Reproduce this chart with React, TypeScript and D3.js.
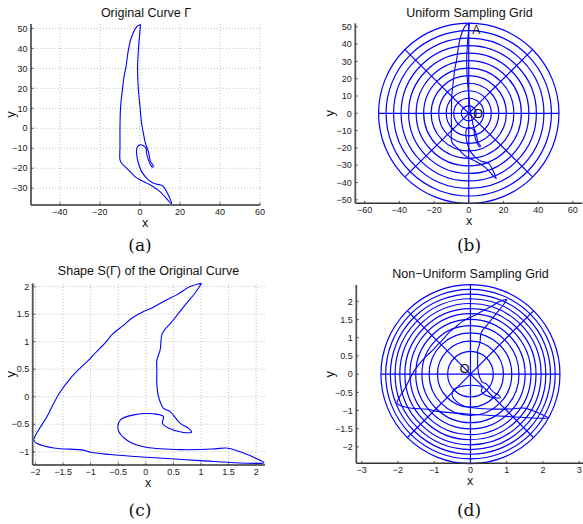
import React, { useEffect, useRef } from 'react';
import * as d3 from 'd3';

// Original curve Γ (panels a, b)
const gammaX = [0.3, -1.7, -4.2, -5.8, -7, -8, -8.8, -9.7, -10, -10, -10, -9.2, -7.5, -5.8, -4.2, -2.5, 0, 5, 10, 15.8, 11.7, 10, 7.5, 4.2, 0.8, -0.8, -1.7, -1.3, 0, 1.7, 3, 3.3, 4.2, 5.3, 6.3, 6.7, 5.3, 4.7, 4.2, 3.3, 2.5, 1.7, 0.8, 0, -0.8, -1.2, -0.8, 0.3];
const gammaY = [52, 50.8, 45.8, 39.2, 30.8, 25.8, 19.2, 10.8, 0.8, -9.2, -15.8, -17.5, -19.2, -20.8, -22.5, -24.2, -25.8, -28.3, -31.7, -37.8, -29.2, -28.3, -27.8, -25.8, -21.7, -17.5, -12.5, -9.2, -8.3, -8.7, -10, -12.5, -15.8, -18.3, -19.5, -18.8, -16.7, -14.2, -11.7, -9.2, -6.7, -2.5, 2.5, 10.8, 19.2, 30.8, 39.2, 52];

// Normalised shape S(Γ) (panels c, d)
const shapeX = [1.01, 0.8, 0.56, 0.32, 0.11, -0.04, -0.25, -0.4, -0.59, -0.77, -0.98, -1.0, -1.19, -1.37, -1.55, -1.67, -1.79, -1.94, -2.03, -1.97, -1.67, -1.13, -1.0, -0.65, 0.02, 0.98, 1.95, 2.14, 2.0, 1.71, 1.52, 1.45, 1.2, 0.62, -0.04, -0.34, -0.5, -0.46, -0.22, 0.14, 0.32, 0.3, 0.41, 0.68, 0.83, 0.78, 0.62, 0.44, 0.32, 0.23, 0.2, 0.2, 0.2, 0.26, 0.3, 0.47, 0.62, 0.74, 0.89, 1.01];
const shapeY = [2.06, 2.0, 1.85, 1.73, 1.61, 1.55, 1.43, 1.3, 1.15, 0.94, 0.73, 0.7, 0.52, 0.33, 0.09, -0.12, -0.36, -0.6, -0.79, -0.85, -0.93, -0.97, -1.01, -1.05, -1.1, -1.16, -1.21, -1.2, -1.12, -1.0, -0.94, -0.93, -0.95, -0.96, -0.91, -0.79, -0.6, -0.42, -0.33, -0.31, -0.36, -0.48, -0.57, -0.65, -0.64, -0.58, -0.48, -0.27, -0.21, 0.0, 0.24, 0.48, 0.66, 0.85, 1.15, 1.36, 1.55, 1.7, 1.88, 2.06];

const uniformRadii = [4.33, 8.67, 13, 17.33, 21.67, 26, 30.33, 34.67, 39, 43.33, 47.67, 52];
const nonUniformRadii = [0.63, 0.91, 1.14, 1.34, 1.51, 1.67, 1.81, 1.95, 2.08, 2.21, 2.34, 2.47];
const rayAngles = [0, 45, 90, 135, 180, 225, 270, 315];

const ticksAx = [-40, -20, 0, 20, 40, 60];
const ticksAy = [-30, -20, -10, 0, 10, 20, 30, 40, 50];
const ticksBx = [-60, -40, -20, 0, 20, 40, 60];
const ticksBy = [-50, -40, -30, -20, -10, 0, 10, 20, 30, 40, 50];
const ticksCx = [-2, -1.5, -1, -0.5, 0, 0.5, 1, 1.5, 2];
const ticksCy = [-1, -0.5, 0, 0.5, 1, 1.5, 2];
const ticksDx = [-3, -2, -1, 0, 1, 2, 3];
const ticksDy = [-2, -1.5, -1, -0.5, 0, 0.5, 1, 1.5, 2];

const titles = ['Original Curve Γ', 'Uniform Sampling Grid', 'Shape S(Γ) of the Original Curve', 'Non\u2212Uniform Sampling Grid'];
const subLabels = ['(a)', '(b)', '(c)', '(d)'];

const fmt = (v: number) => (v < 0 ? '\u2212' + String(-v) : String(v));

const BLUE = '#0000ff';
const SANS = '"Liberation Sans", Arial, sans-serif';

export default function App() {
  const ref = useRef<SVGSVGElement>(null);
  useEffect(() => {
    const svg = d3.select(ref.current);
    svg.selectAll('*').remove();

    const panels = [
      { px: [31, 260], py: [205, 24], dx: [-54.5, 60], dy: [-38.4, 52.2], tx: ticksAx, ty: ticksAy, grid: true, curve: [gammaX, gammaY], radii: null as number[] | null, titleX: 146, titleY: 17, sub: [140, 251], xlx: 145, yl: 8 },
      { px: [355.3, 582.2], py: [203.3, 23.3], dx: [-65.4, 65.4], dy: [-52, 52], tx: ticksBx, ty: ticksBy, grid: false, curve: [gammaX, gammaY], radii: uniformRadii, titleX: 469.5, titleY: 16.5, sub: [469, 251], xlx: 469, yl: 327 },
      { px: [32.7, 265], py: [465, 283.3], dx: [-2.05, 2.16], dy: [-1.24, 2.06], tx: ticksCx, ty: ticksCy, grid: true, curve: [shapeX, shapeY], radii: null, titleX: 148.5, titleY: 275, sub: [140, 516], xlx: 148, yl: 8 },
      { px: [356.3, 584.6], py: [463.3, 285], dx: [-3.15, 3.15], dy: [-2.45, 2.45], tx: ticksDx, ty: ticksDy, grid: false, curve: [shapeX, shapeY], radii: nonUniformRadii, titleX: 470.5, titleY: 278, sub: [469, 516], xlx: 470, yl: 327 },
    ];

    panels.forEach((p, i) => {
      const x = d3.scaleLinear().domain(p.dx).range(p.px);
      const y = d3.scaleLinear().domain(p.dy).range(p.py);
      const g = svg.append('g');

      if (p.grid) {
        g.selectAll('.gx').data(p.tx).enter().append('line')
          .attr('x1', (d) => x(d)).attr('x2', (d) => x(d))
          .attr('y1', p.py[0]).attr('y2', p.py[1])
          .attr('stroke', '#b0b0b0').attr('stroke-width', 0.8).attr('stroke-dasharray', '1,2');
        g.selectAll('.gy').data(p.ty).enter().append('line')
          .attr('y1', (d) => y(d)).attr('y2', (d) => y(d))
          .attr('x1', p.px[0]).attr('x2', p.px[1])
          .attr('stroke', '#b0b0b0').attr('stroke-width', 0.8).attr('stroke-dasharray', '1,2');
      }

      if (p.radii) {
        const cx = x(0), cy = y(0);
        g.selectAll('.circ').data(p.radii).enter().append('circle')
          .attr('cx', cx).attr('cy', cy).attr('r', (d) => x(d) - x(0))
          .attr('fill', 'none').attr('stroke', BLUE).attr('stroke-width', 1.2);
        const R = p.radii[p.radii.length - 1];
        g.selectAll('.ray').data(rayAngles).enter().append('line')
          .attr('x1', cx).attr('y1', cy)
          .attr('x2', (a) => x(R * Math.cos((a * Math.PI) / 180)))
          .attr('y2', (a) => y(R * Math.sin((a * Math.PI) / 180)))
          .attr('stroke', BLUE).attr('stroke-width', 1.2);
      }

      const pts = p.curve[0].map((vx, j) => [vx, p.curve[1][j]] as [number, number]);
      const line = d3.line<[number, number]>().x((d) => x(d[0])).y((d) => y(d[1])).curve(d3.curveCatmullRom.alpha(0.5));
      g.append('path').attr('d', line(pts) as string)
        .attr('fill', 'none').attr('stroke', BLUE).attr('stroke-width', 1.1);

      // axes lines
      g.append('line').attr('x1', p.px[0]).attr('x2', p.px[0]).attr('y1', p.py[0]).attr('y2', p.py[1])
        .attr('stroke', '#555').attr('stroke-width', 1.8);
      g.append('line').attr('x1', p.px[0]).attr('x2', p.px[1]).attr('y1', p.py[0]).attr('y2', p.py[0])
        .attr('stroke', '#333').attr('stroke-width', 1.5);

      // ticks
      g.selectAll('.tx').data(p.tx).enter().append('line')
        .attr('x1', (d) => x(d)).attr('x2', (d) => x(d))
        .attr('y1', p.py[0]).attr('y2', p.py[0] - 2.5)
        .attr('stroke', '#333').attr('stroke-width', 0.8);
      g.selectAll('.ty').data(p.ty).enter().append('line')
        .attr('y1', (d) => y(d)).attr('y2', (d) => y(d))
        .attr('x1', p.px[0]).attr('x2', p.px[0] + 2.5)
        .attr('stroke', '#333').attr('stroke-width', 0.8);

      g.selectAll('.txl').data(p.tx).enter().append('text')
        .attr('x', (d) => x(d)).attr('y', p.py[0] + 10)
        .attr('text-anchor', 'middle').attr('font-family', SANS).attr('font-size', 9).attr('fill', '#222')
        .text((d) => fmt(d));
      g.selectAll('.tyl').data(p.ty).enter().append('text')
        .attr('x', p.px[0] - 3.5).attr('y', (d) => y(d) + 3.2)
        .attr('text-anchor', 'end').attr('font-family', SANS).attr('font-size', 9).attr('fill', '#222')
        .text((d) => fmt(d));

      // title
      g.append('text').attr('x', p.titleX).attr('y', p.titleY)
        .attr('text-anchor', 'middle').attr('font-family', SANS).attr('font-size', 12.5).attr('fill', '#111')
        .text(titles[i]);

      // axis labels
      g.append('text').attr('x', p.xlx).attr('y', p.py[0] + 22)
        .attr('text-anchor', 'middle').attr('font-family', SANS).attr('font-size', 12.5).attr('fill', '#111').text('x');
      const ymid = (p.py[0] + p.py[1]) / 2;
      g.append('text').attr('transform', `translate(${p.yl + 7},${ymid}) rotate(-90)`)
        .attr('text-anchor', 'middle').attr('font-family', SANS).attr('font-size', 13).attr('fill', '#111').text('y');

      // subfigure label
      g.append('text').attr('x', p.sub[0]).attr('y', p.sub[1])
        .attr('text-anchor', 'middle').attr('font-family', '"DejaVu Serif", "Liberation Serif", serif').attr('font-size', 17).attr('fill', '#111')
        .text(subLabels[i]);

      if (i === 1) {
        g.append('text').attr('x', x(2)).attr('y', y(46)).attr('font-family', SANS).attr('font-size', 12).attr('fill', '#111').text('A');
        g.append('text').attr('x', x(2.5)).attr('y', y(0) + 4.5).attr('font-family', SANS).attr('font-size', 13).attr('fill', '#111').text('O');
      }
      if (i === 3) {
        g.append('text').attr('x', x(-0.3)).attr('y', y(0.02)).attr('font-family', SANS).attr('font-size', 13).attr('fill', '#111').text('O');
      }
    });
  }, []);
  return (
    <svg ref={ref} width={583} height={524} style={{ position: 'absolute', left: 0, top: 0, background: '#fff' }} />
  );
}
